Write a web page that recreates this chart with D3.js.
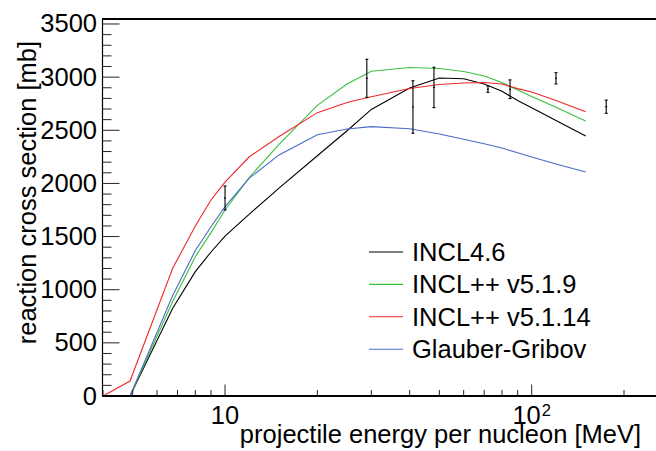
<!DOCTYPE html>
<html>
<head>
<meta charset="utf-8">
<script src="https://cdn.jsdelivr.net/npm/d3@7"></script>
<style>
  html, body { margin: 0; padding: 0; background: #fff; }
  svg { display: block; font-family: "Liberation Sans", Arial, Helvetica, sans-serif; }
</style>
</head>
<body>
<svg id="chart" width="656" height="451"></svg>
<script>
// ---- data ----
const energies = [4, 4.9, 6.75, 8, 9, 10, 12, 15, 20, 25, 30, 40, 50, 60, 70, 80, 90, 100, 120, 150];
const incl46     = [0, 0, 825, 1170, 1355, 1505, 1712, 1955, 2260, 2496, 2696, 2898, 2992, 2985, 2936, 2867, 2780, 2713, 2592, 2446];
const inclpp519  = [0, 0, 890, 1311, 1537, 1750, 2057, 2367, 2734, 2936, 3056, 3091, 3081, 3053, 3011, 2950, 2879, 2818, 2716, 2587];
const inclpp5114 = [0, 141, 1201, 1600, 1844, 2013, 2251, 2442, 2666, 2762, 2815, 2893, 2931, 2945, 2950, 2936, 2892, 2860, 2781, 2675];
const glauber    = [0, 0, 946, 1369, 1592, 1781, 2050, 2268, 2458, 2512, 2534, 2515, 2465, 2416, 2373, 2333, 2288, 2249, 2183, 2108];

const expE     = [10, 29, 41, 48, 72, 85, 120, 175];
const expSigma = [1863, 2989, 2719, 2903, 2887, 2886, 2989, 2722];
const expErr   = [113, 179, 247, 190, 30, 88, 53, 62];

const seriesNames  = ["INCL4.6", "INCL++ v5.1.9", "INCL++ v5.1.14", "Glauber-Gribov"];
const seriesValues = [incl46, inclpp519, inclpp5114, glauber];
const seriesColors = ["#000000", "#3cbf3c", "#f02828", "#4a6cc8"];

const yTickValues = [0, 500, 1000, 1500, 2000, 2500, 3000, 3500];
const xMajorTicks = [10, 100];
const xMajorLabels = [["10", ""], ["10", "2"]];

(function () {
// ---- layout ----
const svg = d3.select("#chart");
const mLeft = 103, mRight = 678, mTop = 19, mBottom = 396;
const fs = 25.5;

const x = d3.scaleLog().domain([4, 300]).range([mLeft, mRight]);
const y = d3.scaleLinear().domain([0, 3547]).range([mBottom, mTop]);

// curves
const line = d3.line().x(d => x(d[0])).y(d => y(d[1]));
seriesValues.forEach((vals, i) => {
  svg.append("path")
    .datum(energies.map((e, k) => [e, vals[k]]))
    .attr("d", line)
    .attr("fill", "none")
    .attr("stroke", seriesColors[i])
    .attr("stroke-width", 1.1);
});

// experimental points with error bars
const g = svg.append("g").attr("stroke", "#000").attr("stroke-width", 1.1);
expE.forEach((e, i) => {
  const cx = x(e), y0 = y(expSigma[i] - expErr[i]), y1 = y(expSigma[i] + expErr[i]), yc = y(expSigma[i]);
  g.append("line").attr("x1", cx).attr("x2", cx).attr("y1", y0).attr("y2", y1);
  g.append("line").attr("x1", cx - 1.5).attr("x2", cx + 1.5).attr("y1", y0).attr("y2", y0);
  g.append("line").attr("x1", cx - 1.5).attr("x2", cx + 1.5).attr("y1", y1).attr("y2", y1);
  g.append("line").attr("x1", cx - 1).attr("x2", cx + 1).attr("y1", yc).attr("y2", yc);
});

// y axis
const yAxisX = mLeft - 0.5;
svg.append("line").attr("x1", yAxisX).attr("x2", yAxisX).attr("y1", mTop).attr("y2", mBottom)
  .attr("stroke", "#000").attr("stroke-width", 1.2);
const yMinor = d3.range(0, 3501, 100);
yMinor.forEach(v => {
  const major = v % 500 === 0;
  svg.append("line").attr("x1", yAxisX).attr("x2", yAxisX + (major ? 17 : 9))
    .attr("y1", y(v)).attr("y2", y(v)).attr("stroke", "#222").attr("stroke-width", 1);
});
yTickValues.forEach(v => {
  svg.append("text").attr("x", 97).attr("y", y(v) + 8.5)
    .attr("text-anchor", "end").attr("font-size", fs).text(v);
});

// x axis
const xMinor = [];
[1, 10, 100].forEach(dec => { for (let m = 1; m <= 9; m++) { const v = dec * m; if (v >= 4 && v <= 300) xMinor.push(v); } });
xMinor.forEach(v => {
  const major = xMajorTicks.includes(v);
  svg.append("line").attr("x1", x(v)).attr("x2", x(v))
    .attr("y1", mBottom).attr("y2", mBottom - (major ? 11.5 : 6))
    .attr("stroke", "#222").attr("stroke-width", 1);
});
svg.append("line").attr("x1", mLeft - 1).attr("x2", 656).attr("y1", mBottom).attr("y2", mBottom)
  .attr("stroke", "#000").attr("stroke-width", 2.2);
// top frame
svg.append("line").attr("x1", mLeft - 1).attr("x2", 656).attr("y1", mTop).attr("y2", mTop)
  .attr("stroke", "#000").attr("stroke-width", 2);

xMajorTicks.forEach((v, i) => {
  const t = svg.append("text").attr("x", x(v)).attr("y", 424)
    .attr("text-anchor", "middle").attr("font-size", fs);
  t.append("tspan").text(xMajorLabels[i][0]);
  if (xMajorLabels[i][1]) {
    t.append("tspan").attr("font-size", 16.5).attr("dx", 1).attr("dy", -8.5).text(xMajorLabels[i][1]);
  }
});

// axis titles
svg.append("text").attr("x", 641).attr("y", 443).attr("text-anchor", "end")
  .attr("font-size", fs).text("projectile energy per nucleon [MeV]");
svg.append("text").attr("transform", "translate(35.5,41) rotate(-90)")
  .attr("text-anchor", "end").attr("font-size", fs).text("reaction cross section [mb]");

// legend
seriesNames.forEach((name, i) => {
  const ly = 252 + i * 32.4;
  svg.append("line").attr("x1", 369).attr("x2", 403).attr("y1", ly).attr("y2", ly)
    .attr("stroke", seriesColors[i]).attr("stroke-width", 1.1);
  svg.append("text").attr("x", 412).attr("y", ly + 9).attr("font-size", fs).text(name);
});
})();
</script>
</body>
</html>
